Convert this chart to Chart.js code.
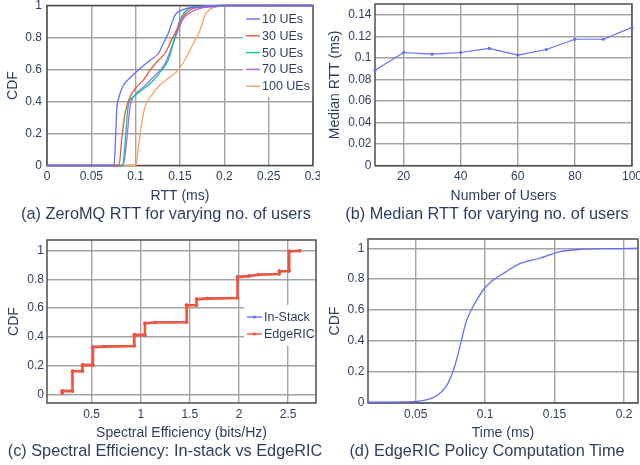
<!DOCTYPE html>
<html>
<head>
<meta charset="utf-8">
<script src="https://cdn.jsdelivr.net/npm/chart.js@4.4.1/dist/chart.umd.min.js"></script>
<style>
  body { margin: 0; background: #fff; }
  #page { position: relative; width: 640px; height: 465px; overflow: hidden;
          font-family: "Liberation Sans", Arial, sans-serif; color: #2a3f5f; }
  canvas { position: absolute; }
  .cap { position: absolute; transform: translate(-50%, -50%); white-space: nowrap;
         font-size: 16.3px; line-height: 1; }
</style>
</head>
<body>
<div id="page">
  <canvas id="chartA" width="320" height="205" style="left:0;top:0"></canvas>
  <canvas id="chartB" width="320" height="205" style="left:320px;top:0"></canvas>
  <canvas id="chartC" width="320" height="220" style="left:0;top:225px"></canvas>
  <canvas id="chartD" width="320" height="220" style="left:320px;top:225px"></canvas>
  <div class="cap" style="left:166px;top:213px">(a) ZeroMQ RTT for varying no. of users</div>
  <div class="cap" style="left:487px;top:213px">(b) Median RTT for varying no. of users</div>
  <div class="cap" style="left:165px;top:450px">(c) Spectral Efficiency: In-stack vs EdgeRIC</div>
  <div class="cap" style="left:487px;top:450px">(d) EdgeRIC Policy Computation Time</div>
</div>
<script>
// (a) RTT CDF per number of UEs (ms)
const rtt10 = [0, 0.0756, 0.0772, 0.0786, 0.0812, 0.0861, 0.0955, 0.1049, 0.1162, 0.1256, 0.1312, 0.1368, 0.1406, 0.1444, 0.148, 0.1575, 0.1726, 0.2, 0.3];
const cdf10 = [0, 0, 0.15, 0.345, 0.428, 0.50, 0.558, 0.606, 0.658, 0.70, 0.763, 0.826, 0.888, 0.94, 0.961, 0.982, 0.992, 1, 1];
const rtt30 = [0, 0.0812, 0.0842, 0.088, 0.0936, 0.101, 0.1086, 0.1162, 0.1256, 0.133, 0.1406, 0.148, 0.1537, 0.1613, 0.1726, 0.2, 0.3];
const cdf30 = [0, 0, 0.157, 0.324, 0.428, 0.49, 0.533, 0.596, 0.658, 0.70, 0.785, 0.867, 0.93, 0.972, 0.99, 1, 1];
const rtt50 = [0, 0.0853, 0.088, 0.0917, 0.0974, 0.1068, 0.12, 0.1293, 0.1368, 0.1444, 0.15, 0.1556, 0.165, 0.2, 0.3];
const cdf50 = [0, 0, 0.136, 0.378, 0.43, 0.47, 0.533, 0.596, 0.658, 0.805, 0.909, 0.961, 0.99, 1, 1];
const rtt70 = [0, 0.086, 0.0899, 0.0936, 0.0992, 0.1086, 0.1218, 0.133, 0.1406, 0.148, 0.154, 0.1632, 0.1726, 0.1876, 0.2, 0.3];
const cdf70 = [0, 0, 0.157, 0.366, 0.44, 0.49, 0.563, 0.636, 0.74, 0.846, 0.919, 0.961, 0.982, 0.992, 1, 1];
const rtt100 = [0, 0.1004, 0.103, 0.1068, 0.1105, 0.118, 0.1274, 0.1368, 0.148, 0.1575, 0.165, 0.1726, 0.1782, 0.1838, 0.1914, 0.2, 0.3];
const cdf100 = [0, 0, 0.115, 0.261, 0.366, 0.44, 0.503, 0.545, 0.596, 0.68, 0.763, 0.846, 0.94, 0.976, 0.992, 1, 1];

// (b) median RTT
const users = [10, 20, 30, 40, 50, 60, 70, 80, 90, 100];
const medianRtt = [0.0886, 0.105, 0.1035, 0.105, 0.1088, 0.1026, 0.1078, 0.1173, 0.1173, 0.1283];

// (c) spectral efficiency CDF (bits/Hz)
const seX = [0.20, 0.20, 0.305, 0.305, 0.406, 0.406, 0.513, 0.513, 0.624, 0.934, 0.934, 1.042, 1.042, 1.146, 1.467, 1.467, 1.568, 1.568, 1.675, 1.985, 1.985, 2.096, 2.197, 2.409, 2.409, 2.51, 2.51, 2.618];
const edgeRicCdf = [0.008, 0.022, 0.022, 0.16, 0.16, 0.203, 0.203, 0.328, 0.332, 0.336, 0.412, 0.412, 0.494, 0.50, 0.502, 0.62, 0.62, 0.662, 0.666, 0.67, 0.815, 0.822, 0.832, 0.838, 0.855, 0.858, 0.995, 1.0];
const inStackCdf = [0.012, 0.028, 0.028, 0.165, 0.165, 0.208, 0.208, 0.334, 0.336, 0.34, 0.418, 0.418, 0.498, 0.503, 0.506, 0.625, 0.625, 0.667, 0.67, 0.674, 0.822, 0.828, 0.836, 0.842, 0.862, 0.862, 0.998, 1.0];

// (d) policy computation time CDF (ms)
const policyTime = [0.0157, 0.048, 0.0577, 0.0649, 0.0721, 0.0769, 0.0805, 0.0829, 0.0865, 0.0901, 0.0948, 0.0996, 0.1044, 0.1152, 0.125, 0.1392, 0.1536, 0.168, 0.197, 0.21];
const policyCdf = [0, 0.003, 0.015, 0.04, 0.105, 0.20, 0.31, 0.40, 0.525, 0.60, 0.676, 0.74, 0.783, 0.848, 0.90, 0.935, 0.977, 0.992, 0.998, 1.0];

// tick labels
const ticksA = [0, 0.05, 0.1, 0.15, 0.2, 0.25, 0.3];
const ticksCdf = [0, 0.2, 0.4, 0.6, 0.8, 1];
const ticksUsers = [20, 40, 60, 80, 100];
const ticksMedian = [0, 0.02, 0.04, 0.06, 0.08, 0.1, 0.12, 0.14];
const ticksSe = [0.5, 1, 1.5, 2, 2.5];
const ticksTime = [0.05, 0.1, 0.15, 0.2];

const TEXT = '#2a3f5f';
const GRID = '#a3a3a3';
Chart.defaults.font.family = '"Liberation Sans", Arial, sans-serif';

const xy = (xs, ys) => xs.map((x, i) => ({ x: x, y: ys[i] }));

function axis(min, max, tickValues, size, tickPad, title, titlePad, isX) {
    return {
        type: 'linear', min: min, max: max,
        afterBuildTicks: s => { s.ticks = tickValues.map(v => ({ value: v })); },
        afterFit: s => {
            if (isX) s.height = size; else s.width = size;
            s.paddingLeft = s.paddingRight = s.paddingTop = s.paddingBottom = 0;
        },
        grid: { color: GRID, lineWidth: 1.4, drawTicks: false },
        border: { display: false },
        ticks: { color: TEXT, font: { size: 12 }, padding: tickPad, autoSkip: false, maxRotation: 0,
                 callback: v => String(+v.toFixed(4)) },
        title: { display: true, text: title, color: TEXT, font: { size: 14 }, padding: titlePad }
    };
}

// frame round the plot + legend drawn inside it
const framePlugin = {
    id: 'insetLegend',
    beforeDatasetsDraw(chart, args, o) {
        const { ctx, chartArea: a } = chart;
        ctx.save();
        if (o.box) {
            ctx.fillStyle = '#fff';
            ctx.fillRect(o.box[0], o.box[1], o.box[2], o.box[3]);
        }
        ctx.strokeStyle = '#4d4d4d';
        ctx.lineWidth = 1.5;
        ctx.strokeRect(a.left, a.top, a.width, a.height);
        if (o.box) {
            ctx.font = '12.5px "Liberation Sans", Arial, sans-serif';
            ctx.textBaseline = 'middle';
            chart.data.datasets.forEach((ds, i) => {
                const y = o.firstRow + i * o.rowGap;
                ctx.strokeStyle = ds.borderColor;
                ctx.lineWidth = 1.4;
                ctx.beginPath();
                ctx.moveTo(o.lineX, y);
                ctx.lineTo(o.lineX + o.lineLen, y);
                ctx.stroke();
                if (o.marker) {
                    ctx.fillStyle = ds.borderColor;
                    ctx.beginPath();
                    ctx.arc(o.lineX + o.lineLen / 2, y, 1.6, 0, Math.PI * 2);
                    ctx.fill();
                }
                ctx.fillStyle = TEXT;
                ctx.fillText(ds.label, o.lineX + o.lineLen + 2, y + 0.5);
            });
        }
        ctx.restore();
    }
};

const baseOpts = {
    responsive: false, animation: false, devicePixelRatio: 1,
    plugins: { legend: { display: false }, tooltip: { enabled: false } }
};

function cdfLine(label, xs, ys, color) {
    return { label: label, data: xy(xs, ys), borderColor: color, borderWidth: 1.3,
             pointRadius: 0, cubicInterpolationMode: 'monotone', clip: false };
}

new Chart(document.getElementById('chartA'), {
    type: 'line',
    data: {
        datasets: [
            cdfLine('10 UEs', rtt10, cdf10, '#636efa'),
            cdfLine('30 UEs', rtt30, cdf30, '#ef553b'),
            cdfLine('50 UEs', rtt50, cdf50, '#00cc96'),
            cdfLine('70 UEs', rtt70, cdf70, '#ab63fa'),
            cdfLine('100 UEs', rtt100, cdf100, '#ffa15a')
        ]
    },
    options: Object.assign({}, baseOpts, {
        layout: { padding: { left: 0, top: 5.5, right: 7, bottom: 0 } },
        scales: {
            x: axis(0, 0.3, ticksA, 39.5, 4, 'RTT (ms)', 0, true),
            y: axis(0, 1, ticksCdf, 47, 5, 'CDF', 5, false)
        },
        plugins: Object.assign({}, baseOpts.plugins, {
            insetLegend: { box: [243, 7, 70, 90], firstRow: 19, rowGap: 16.8, lineX: 246, lineLen: 14 }
        })
    }),
    plugins: [framePlugin]
});

new Chart(document.getElementById('chartB'), {
    type: 'line',
    data: {
        datasets: [{
            label: 'Median RTT', data: xy(users, medianRtt), borderColor: '#636efa',
            backgroundColor: '#636efa', borderWidth: 1.2, pointRadius: 1.6, pointBorderWidth: 0,
            tension: 0, clip: false
        }]
    },
    options: Object.assign({}, baseOpts, {
        layout: { padding: { left: 0, top: 2.5, right: 8, bottom: 0 } },
        scales: {
            x: axis(10, 100, ticksUsers, 39.3, 4, 'Number of Users', 0, true),
            y: axis(0, 0.15, ticksMedian, 55, 3.5, 'Median RTT (ms)', 6.6, false)
        },
        plugins: Object.assign({}, baseOpts.plugins, { insetLegend: {} })
    }),
    plugins: [framePlugin]
});

new Chart(document.getElementById('chartC'), {
    type: 'line',
    data: {
        datasets: [
            { label: 'In-Stack', data: xy(seX, inStackCdf), borderColor: '#636efa', backgroundColor: '#636efa',
              borderWidth: 1.2, pointRadius: 1.4, pointBorderWidth: 0, tension: 0, order: 2, clip: false },
            { label: 'EdgeRIC', data: xy(seX, edgeRicCdf), borderColor: '#ef553b', backgroundColor: '#ef553b',
              borderWidth: 2.6, pointRadius: 1.8, pointBorderWidth: 0, tension: 0, order: 1, clip: false }
        ]
    },
    options: Object.assign({}, baseOpts, {
        layout: { padding: { left: 0, top: 15, right: 2, bottom: 0 } },
        scales: {
            x: axis(0.0455, 2.783, ticksSe, 42, 4.8, 'Spectral Efficiency (bits/Hz)', 3.6, true),
            y: axis(-0.0606, 1.0745, ticksCdf, 47, 3, 'CDF', 5.9, false)
        },
        plugins: Object.assign({}, baseOpts.plugins, {
            insetLegend: { box: [244, 80, 73, 41], firstRow: 92, rowGap: 17, lineX: 247, lineLen: 15, marker: true }
        })
    }),
    plugins: [framePlugin]
});

new Chart(document.getElementById('chartD'), {
    type: 'line',
    data: {
        datasets: [cdfLine('Policy time', policyTime, policyCdf, '#636efa')]
    },
    options: Object.assign({}, baseOpts, {
        layout: { padding: { left: 0, top: 14, right: 2, bottom: 0 } },
        scales: {
            x: axis(0.0157, 0.2101, ticksTime, 42, 4.8, 'Time (ms)', 3.6, true),
            y: axis(-0.005, 1.06, ticksCdf, 48, 3.7, 'CDF', 6.6, false)
        },
        plugins: Object.assign({}, baseOpts.plugins, { insetLegend: {} })
    }),
    plugins: [framePlugin]
});
</script>
</body>
</html>
